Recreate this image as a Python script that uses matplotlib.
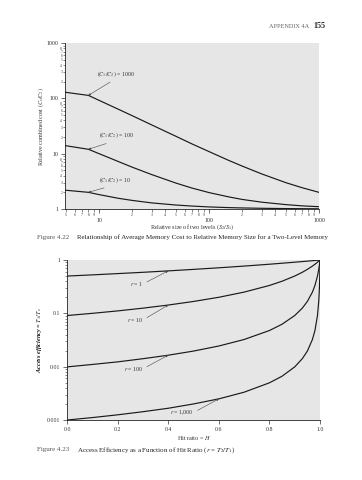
import matplotlib
matplotlib.use("Agg")
import matplotlib.pyplot as plt
import numpy as np

plt.rcParams['font.family'] = ['Liberation Serif', 'DejaVu Serif']
plt.rcParams['mathtext.fontset'] = 'stix'

# ---------------- Figure 4.22 data ----------------
size_ratio = [4.9, 8, 10, 15, 20, 30, 50, 70, 100, 150, 200, 300, 500, 700, 1000]
cost_1000 = [129, 113, 92, 63.4, 48.6, 33.2, 20.6, 15.0, 10.9, 7.6, 5.97, 4.32, 2.99, 2.43, 2.0]
cost_100 = [14, 12, 10, 7.2, 5.7, 4.2, 2.94, 2.39, 1.98, 1.66, 1.49, 1.33, 1.2, 1.14, 1.1]
cost_10 = [2.19, 2.0, 1.82, 1.56, 1.43, 1.29, 1.18, 1.13, 1.09, 1.06, 1.045, 1.03, 1.018, 1.013, 1.009]
cost_labels = ['$(C_1/C_2)$ = 1000', '$(C_1/C_2)$ = 100', '$(C_1/C_2)$ = 10']

x_major = [10, 100, 1000]
x_major_labels = ['10', '100', '1000']
x_minor = [5, 6, 7, 8, 9, 20, 30, 40, 50, 60, 70, 80, 90, 200, 300, 400, 500, 600, 700, 800, 900]
x_minor_labels = ['5', '6', '7', '8', '9', '2', '3', '4', '5', '6', '7', '8', '9',
                  '2', '3', '4', '5', '6', '7', '8', '9']
y_major = [1, 10, 100, 1000]
y_major_labels = ['1', '10', '100', '1000']
y_minor = [2, 3, 4, 5, 6, 7, 8, 9, 20, 30, 40, 50, 60, 70, 80, 90, 200, 300, 400, 500, 600, 700, 800, 900]
y_minor_labels = ['2', '3', '4', '5', '6', '7', '8', '', '2', '3', '4', '5', '6', '7', '8', '',
                  '2', '3', '4', '5', '6', '7', '8', '']

# ---------------- Figure 4.23 data ----------------
hit_ratio = [0, 0.1, 0.2, 0.3, 0.4, 0.5, 0.6, 0.7, 0.8, 0.85, 0.9, 0.93, 0.95, 0.97, 0.98,
             0.99, 0.995, 0.997, 0.998, 0.999, 1.0]
eff_r1 = [0.5, 0.526, 0.556, 0.588, 0.625, 0.667, 0.714, 0.769, 0.833, 0.87, 0.909, 0.935,
          0.952, 0.971, 0.98, 0.99, 0.995, 0.997, 0.998, 0.999, 1.0]
eff_r10 = [0.0909, 0.1, 0.111, 0.125, 0.143, 0.167, 0.2, 0.25, 0.333, 0.4, 0.5, 0.588, 0.667,
           0.769, 0.833, 0.909, 0.952, 0.971, 0.98, 0.99, 1.0]
eff_r100 = [0.0099, 0.011, 0.0123, 0.0141, 0.0164, 0.0196, 0.0244, 0.0323, 0.0476, 0.0625,
            0.0909, 0.125, 0.167, 0.25, 0.333, 0.5, 0.667, 0.769, 0.833, 0.909, 1.0]
eff_r1000 = [0.000999, 0.00111, 0.00125, 0.00143, 0.00166, 0.002, 0.00249, 0.00332, 0.00498,
             0.00662, 0.0099, 0.0141, 0.0196, 0.0323, 0.0476, 0.0909, 0.167, 0.25, 0.333, 0.5, 1.0]
eff_labels = ['$r$ = 1', '$r$ = 10', '$r$ = 100', '$r$ = 1,000']
h_ticks = [0.0, 0.2, 0.4, 0.6, 0.8, 1.0]
h_tick_labels = ['0.0', '0.2', '0.4', '0.6', '0.8', '1.0']
e_ticks = [0.001, 0.01, 0.1, 1]
e_tick_labels = ['0.001', '0.01', '0.1', '1']

W, H = 362, 480
fig = plt.figure(figsize=(W / 100, H / 100), dpi=100)
fig.patch.set_facecolor('white')

bg = '#e6e6e6'
line_c = '#1a1a1a'
txt_c = '#333333'


def fx(px):
    return px / W


def fy(py):
    return 1 - py / H


# ---------------- Top chart ----------------
ax1 = fig.add_axes([fx(65), fy(209), fx(319) - fx(65), fy(43) - fy(209)])
ax1.set_facecolor(bg)
for c in (cost_1000, cost_100, cost_10):
    ax1.plot(size_ratio, c, color=line_c, lw=0.85)
ax1.set_xscale('log')
ax1.set_yscale('log')
ax1.set_xlim(4.9, 1000)
ax1.set_ylim(1, 1000)
ax1.set_xticks(x_major)
ax1.set_xticklabels(x_major_labels)
ax1.set_xticks(x_minor, minor=True)
ax1.set_xticklabels(x_minor_labels, minor=True)
ax1.set_yticks(y_major)
ax1.set_yticklabels(y_major_labels)
ax1.set_yticks(y_minor, minor=True)
ax1.set_yticklabels(y_minor_labels, minor=True)
ax1.tick_params(axis='x', which='major', labelsize=4.2, pad=3.5, length=3, width=0.5,
                direction='out', colors=txt_c)
ax1.tick_params(axis='x', which='minor', labelsize=2.8, pad=1, length=2, width=0.4,
                direction='out', colors=txt_c)
ax1.tick_params(axis='y', which='major', labelsize=4.2, pad=1.5, length=3, width=0.5,
                direction='out', colors=txt_c)
ax1.tick_params(axis='y', which='minor', labelsize=2.6, pad=0.5, length=1.5, width=0.4,
                direction='out', colors=txt_c)
for s in ('top', 'right'):
    ax1.spines[s].set_visible(False)
for s in ('left', 'bottom'):
    ax1.spines[s].set_linewidth(0.6)
    ax1.spines[s].set_color('#222222')
ax1.set_xlabel('Relative size of two levels $(S_2/S_1)$', fontsize=4.4, color=txt_c)
ax1.xaxis.set_label_coords(0.5, -0.108)
ax1.xaxis.label.set_va('center')
ax1.set_ylabel('Relative combined cost $(C_s/C_2)$', fontsize=4.4, color=txt_c)
ax1.yaxis.set_label_coords(-0.094, 0.5)
ax1.yaxis.label.set_va('center')

# annotation text positions (data coords)
ann_top = [(14.2, 276), (14.3, 21.1), (14.0, 3.34)]
for c, lab, pos in zip((cost_1000, cost_100, cost_10), cost_labels, ann_top):
    ax1.annotate(lab, xy=(size_ratio[1], c[1]), xytext=pos, ha='center', va='center',
                 fontsize=4.2, color=txt_c,
                 arrowprops=dict(arrowstyle='-|>', lw=0.4, color='#444444',
                                 mutation_scale=3, relpos=(0.5, 0), shrinkA=1, shrinkB=0))

# ---------------- Bottom chart ----------------
ax2 = fig.add_axes([fx(67), fy(420), fx(320) - fx(67), fy(260) - fy(420)])
ax2.set_facecolor(bg)
for e in (eff_r1, eff_r10, eff_r100, eff_r1000):
    ax2.plot(hit_ratio, e, color=line_c, lw=0.85)
ax2.set_yscale('log')
ax2.set_xlim(0, 1)
ax2.set_ylim(0.001, 1)
ax2.set_xticks(h_ticks)
ax2.set_xticklabels(h_tick_labels)
ax2.set_yticks(e_ticks)
ax2.set_yticklabels(e_tick_labels)
ax2.yaxis.set_minor_locator(matplotlib.ticker.LogLocator(base=10, subs=np.arange(2, 10)))
ax2.yaxis.set_minor_formatter(matplotlib.ticker.NullFormatter())
ax2.tick_params(axis='both', which='major', labelsize=4.2, pad=2, length=3, width=0.5,
                direction='out', colors=txt_c)
ax2.tick_params(axis='y', which='minor', length=1.5, width=0.4, direction='out', colors=txt_c)
for s in ('top', 'right'):
    ax2.spines[s].set_visible(False)
for s in ('left', 'bottom'):
    ax2.spines[s].set_linewidth(0.6)
    ax2.spines[s].set_color('#222222')
ax2.set_xlabel('Hit ratio = $H$', fontsize=4.4, color=txt_c)
ax2.xaxis.set_label_coords(0.5, -0.11)
ax2.xaxis.label.set_va('center')
ax2.set_ylabel('Access efficiency = $T_1/T_s$', fontsize=4.5, color='#111111',
               fontweight='bold', fontstyle='italic')
ax2.yaxis.set_label_coords(-0.107, 0.5)
ax2.yaxis.label.set_va('center')

tip_idx = [4, 4, 4, 6]
ann_bot = [(0.30, 0.355), (0.30, 0.075), (0.30, 0.0091), (0.50, 0.00138)]
for e, lab, idx, pos in zip((eff_r1, eff_r10, eff_r100, eff_r1000), eff_labels, tip_idx, ann_bot):
    ax2.annotate(lab, xy=(hit_ratio[idx], e[idx]), xytext=pos, ha='right', va='center',
                 fontsize=4.2, color=txt_c,
                 arrowprops=dict(arrowstyle='-|>', lw=0.4, color='#444444',
                                 mutation_scale=3, relpos=(1, 0.5), shrinkA=1, shrinkB=0))

# ---------------- Page text ----------------
fig.text(fx(309), fy(26), 'APPENDIX 4A', fontsize=4.5, color='#666666', ha='right', va='center')
fig.text(fx(325), fy(26), '155', fontsize=5.8, fontweight='bold', color='#222222',
         ha='right', va='center')
fig.text(fx(37), fy(237), 'Figure 4.22', fontsize=5.0, color='#555555', ha='left', va='center')
fig.text(fx(77), fy(237), 'Relationship of Average Memory Cost to Relative Memory Size for a Two-Level Memory',
         fontsize=5.0, color='#222222', ha='left', va='center')
fig.text(fx(37), fy(450), 'Figure 4.23', fontsize=5.0, color='#555555', ha='left', va='center')
fig.text(fx(77), fy(450), 'Access Efficiency as a Function of Hit Ratio ($r$ = $T_2/T_1$)',
         fontsize=5.0, color='#222222', ha='left', va='center')

fig.savefig('out.png', dpi=100, facecolor='white')
